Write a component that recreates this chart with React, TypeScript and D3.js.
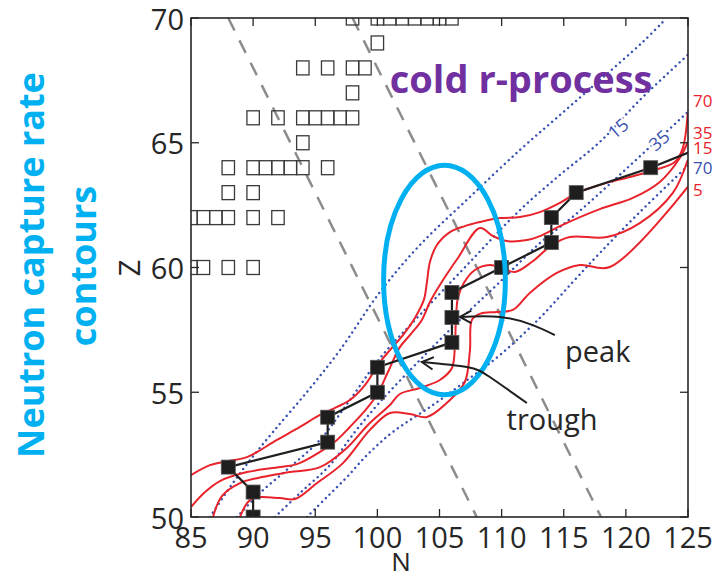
import React from "react";
import * as d3 from "d3";

// Axis extents and ticks (N = neutron number, Z = proton number)
const nDomain: [number, number] = [85, 125];
const zDomain: [number, number] = [50, 70];
const nTicks = [85, 90, 95, 100, 105, 110, 115, 120, 125];
const zTicks = [50, 55, 60, 65, 70];

// Stable isotopes (open squares)
const stableN = [85, 86, 88, 90, 85, 86, 87, 88, 90, 92, 88, 90, 88, 90, 91, 92, 93, 94, 96, 94, 90, 92, 94, 95, 96, 97, 98, 98, 94, 96, 98, 99, 100, 98, 100, 101, 102, 103, 104, 105, 106];
const stableZ = [60, 60, 60, 60, 62, 62, 62, 62, 62, 62, 63, 63, 64, 64, 64, 64, 64, 64, 64, 65, 66, 66, 66, 66, 66, 66, 66, 67, 68, 68, 68, 68, 69, 70, 70, 70, 70, 70, 70, 70, 70];

// r-process path
const pathN = [90, 90, 90, 88, 96, 96, 100, 100, 106, 106, 106, 110, 114, 114, 116, 122, 127];
const pathZ = [49, 50, 51, 52, 53, 54, 55, 56, 57, 58, 59, 60, 61, 62, 63, 64, 65];

// Neutron capture rate contours (red), levels 70 / 35 / 15 / 5
const capture70: [number, number][] = [[85, 51.68], [86.53, 52.08], [87.98, 52.24], [89.51, 52.4], [91.92, 53.09], [93.77, 53.61], [95.38, 54.09], [96.75, 54.41], [97.79, 54.69], [99.0, 55.29], [100.21, 56.21], [101.01, 56.69], [102.06, 57.29], [103.02, 57.98], [103.74, 58.7], [103.99, 59.42], [104.23, 60.22], [104.79, 60.9], [105.84, 61.42], [107.04, 61.66], [108.25, 61.82], [109.86, 61.98], [111.47, 62.02], [113.08, 62.22], [114.69, 62.59], [116.05, 62.99], [117.9, 63.31], [120.32, 63.63], [122.33, 63.91], [123.94, 64.23], [124.58, 64.79], [124.98, 66.19]];
const capture35: [number, number][] = [[85, 50.4], [86.13, 51.0], [87.33, 51.44], [89.51, 51.8], [92.16, 52.0], [93.53, 52.12], [95.38, 52.61], [96.75, 53.09], [97.79, 53.61], [98.84, 54.17], [99.96, 54.89], [100.85, 55.81], [101.81, 56.81], [102.62, 57.29], [103.58, 57.9], [104.23, 58.62], [105.03, 59.3], [106.48, 60.38], [108.25, 61.58], [109.3, 61.26], [110.42, 61.06], [112.03, 61.1], [113.08, 61.26], [114.69, 61.66], [117.9, 62.34], [120.56, 62.79], [122.73, 63.43], [124.34, 64.39], [124.98, 65.03]];
const capture15: [number, number][] = [[86.77, 50], [87.49, 50.84], [88.94, 51.36], [90.71, 51.6], [92.96, 51.8], [95.38, 52.0], [97.55, 52.77], [99.24, 53.69], [101.01, 54.49], [101.81, 54.93], [103.42, 55.17], [105.03, 55.49], [106.0, 55.97], [106.24, 56.89], [106.32, 57.9], [106.48, 58.78], [106.96, 59.38], [107.85, 59.9], [109.05, 60.1], [110.02, 59.98], [111.07, 59.82], [112.43, 60.22], [114.04, 60.9], [115.49, 61.22], [118.47, 61.22], [121.12, 61.78], [123.78, 62.99], [124.98, 64.31]];
const capture5: [number, number][] = [[88.94, 50], [89.51, 50.56], [89.99, 50.76], [90.71, 50.8], [92.16, 50.76], [93.37, 50.72], [95.14, 51.36], [97.23, 52.16], [99.4, 53.49], [101.01, 54.17], [102.62, 54.13], [103.99, 54.01], [105.84, 54.69], [107.04, 55.41], [107.45, 56.69], [107.61, 57.9], [108.25, 58.14], [109.62, 58.22], [110.9, 58.3], [112.27, 58.98], [114.44, 59.78], [116.3, 60.1], [118.71, 60.02], [124.98, 63.23]];

// Second family of contours (blue dotted), levels 5 / 15 / 35 / 70
const dotted5: [number, number][] = [[86.53, 50], [88.14, 51.2], [89.75, 52.28], [91.6, 53.41], [94.33, 55.01], [96.99, 56.69], [100.21, 59.02], [103.42, 60.9], [107.45, 62.83], [111.47, 64.71], [114.69, 66.11], [117.9, 67.51], [121.36, 69.04], [123.13, 69.92]];
const dotted15: [number, number][] = [[88.7, 50], [90.55, 50.96], [92.96, 52.0], [95.38, 53.09], [97.79, 54.69], [100.21, 56.37], [103.42, 58.1], [107.45, 60.22], [111.47, 62.3], [114.69, 63.71], [117.9, 65.03], [121.12, 66.71], [124.98, 68.52]];
const dotted35: [number, number][] = [[91.76, 50], [93.77, 50.96], [96.18, 52.08], [98.19, 53.41], [100.21, 54.61], [103.42, 56.29], [106.64, 57.9], [109.86, 59.42], [113.08, 60.98], [115.89, 62.1], [118.71, 63.35], [121.68, 64.71], [124.98, 66.23]];
const dotted70: [number, number][] = [[94.33, 50], [95.94, 50.8], [97.55, 51.6], [99.16, 52.48], [101.25, 53.41], [104.47, 54.49], [107.45, 55.57], [109.86, 56.49], [113.08, 57.98], [115.73, 59.42], [117.9, 60.58], [121.12, 62.22], [124.98, 64.07]];

// Constant mass number lines A = N + Z (grey dashed)
const massNumbers = [158, 168];

// Contour level labels at the right edge
const edgeLabels = ["70", "35", "15", "70", "5"];
const edgeLabelZ = [66.71, 65.43, 64.79, 63.99, 63.11];
const edgeLabelBlue = [false, false, false, true, false];

// Inline labels on the dotted contours
const inlineLabels = ["15", "35"];
const inlineLabelN = [119.35, 122.65];
const inlineLabelZ = [65.59, 65.11];

// Highlight ellipse (center N, Z and half-axes in N / Z units)
const ringCenter: [number, number] = [105.4, 59.5];
const ringHalf: [number, number] = [4.9, 4.6];

// Annotation arrows
const peakArrow: [number, number][] = [[114.28, 57.29], [112.51, 57.69], [109.86, 58.02], [106.64, 58.02]];
const troughArrow: [number, number][] = [[112.03, 54.57], [109.05, 55.61], [107.2, 56.01], [103.58, 56.21]];

const RED = "#e8232b";
const BLUE_DOT = "#3850b0";
const CYAN = "#00b0f0";
const PURPLE = "#7030a0";
const INK = "#262626";
const FONT = "'Open Sans', 'DejaVu Sans', sans-serif";

export default function App() {
  const width = 718;
  const height = 578;
  const plot = { left: 191, right: 688, top: 18, bottom: 517 };

  const x = d3.scaleLinear().domain(nDomain).range([plot.left, plot.right]);
  const y = d3.scaleLinear().domain(zDomain).range([plot.bottom, plot.top]);

  const smooth = d3
    .line<[number, number]>()
    .x((d) => x(d[0]))
    .y((d) => y(d[1]))
    .curve(d3.curveCatmullRom.alpha(0.5));
  const straight = d3
    .line<[number, number]>()
    .x((d) => x(d[0]))
    .y((d) => y(d[1]));
  const bent = d3
    .line<[number, number]>()
    .x((d) => x(d[0]))
    .y((d) => y(d[1]))
    .curve(d3.curveNatural);

  const pathPts: [number, number][] = pathN.map((n, i) => [n, pathZ[i]]);
  const markers = pathPts.filter(
    ([n, z]) => n >= nDomain[0] && n <= nDomain[1] && z >= zDomain[0] && z <= zDomain[1]
  );

  const cellW = x(1) - x(0);
  const cellH = y(0) - y(0.56);
  const markSize = 14;

  const arrowHead = (pts: [number, number][]) => {
    const tip = [x(pts[pts.length - 1][0]), y(pts[pts.length - 1][1])];
    const prev = [x(pts[pts.length - 2][0]), y(pts[pts.length - 2][1])];
    const a = Math.atan2(prev[1] - tip[1], prev[0] - tip[0]);
    const len = 13;
    const spread = 0.5;
    const p1 = [tip[0] + len * Math.cos(a + spread), tip[1] + len * Math.sin(a + spread)];
    const p2 = [tip[0] + len * Math.cos(a - spread), tip[1] + len * Math.sin(a - spread)];
    return `M${p1[0]},${p1[1]}L${tip[0]},${tip[1]}L${p2[0]},${p2[1]}`;
  };

  const tickLen = 8;

  return (
    <svg
      width={width}
      height={height}
      viewBox={`0 0 ${width} ${height}`}
      style={{ position: "absolute", left: 0, top: 0, background: "#fff" }}
      fontFamily={FONT}
    >
      <defs>
        <clipPath id="plot-area">
          <rect x={plot.left} y={plot.top} width={plot.right - plot.left} height={plot.bottom - plot.top} />
        </clipPath>
      </defs>

      <g clipPath="url(#plot-area)">
        {/* constant-A lines */}
        {massNumbers.map((a) => (
          <line
            key={a}
            x1={x(a - zDomain[1])}
            y1={y(zDomain[1])}
            x2={x(a - zDomain[0])}
            y2={y(zDomain[0])}
            stroke="#8c8c8c"
            strokeWidth={2.5}
            strokeDasharray="14 11"
          />
        ))}

        {/* dotted contours */}
        {[dotted5, dotted15, dotted35, dotted70].map((c, i) => (
          <path
            key={"d" + i}
            d={smooth(c) ?? ""}
            fill="none"
            stroke={BLUE_DOT}
            strokeWidth={2.4}
            strokeLinecap="round"
            strokeDasharray="0.1 5.2"
          />
        ))}

        {/* capture rate contours */}
        {[capture70, capture35, capture15, capture5].map((c, i) => (
          <path key={"r" + i} d={smooth(c) ?? ""} fill="none" stroke={RED} strokeWidth={2} />
        ))}

        {/* stable isotopes */}
        {stableN.map((n, i) => (
          <rect
            key={"s" + i}
            x={x(n) - cellW / 2}
            y={y(stableZ[i]) - cellH / 2}
            width={cellW}
            height={cellH}
            fill="none"
            stroke="#3a3a3a"
            strokeWidth={1.3}
          />
        ))}

        {/* r-process path */}
        <path d={straight(pathPts) ?? ""} fill="none" stroke="#1e1e1e" strokeWidth={2.2} />
        {markers.map(([n, z], i) => (
          <rect
            key={"m" + i}
            x={x(n) - markSize / 2}
            y={y(z) - markSize / 2}
            width={markSize}
            height={markSize}
            fill="#1e1e1e"
            stroke="#555"
            strokeWidth={0.8}
          />
        ))}
      </g>

      {/* inline labels on dotted contours */}
      {inlineLabels.map((t, i) => (
        <text
          key={"il" + i}
          x={x(inlineLabelN[i])}
          y={y(inlineLabelZ[i])}
          transform={`rotate(-40 ${x(inlineLabelN[i])} ${y(inlineLabelZ[i])})`}
          textAnchor="middle"
          dominantBaseline="central"
          fontSize={18}
          fill={BLUE_DOT}
          stroke="#fff"
          strokeWidth={4}
          paintOrder="stroke"
        >
          {t}
        </text>
      ))}

      {/* frame */}
      <rect
        x={plot.left}
        y={plot.top}
        width={plot.right - plot.left}
        height={plot.bottom - plot.top}
        fill="none"
        stroke={INK}
        strokeWidth={1.6}
      />
      {nTicks.map((t) => (
        <g key={"xt" + t} stroke={INK} strokeWidth={1.3}>
          <line x1={x(t)} x2={x(t)} y1={plot.bottom} y2={plot.bottom - tickLen} />
          <line x1={x(t)} x2={x(t)} y1={plot.top} y2={plot.top + tickLen} />
        </g>
      ))}
      {zTicks.map((t) => (
        <g key={"yt" + t} stroke={INK} strokeWidth={1.3}>
          <line x1={plot.left} x2={plot.left + tickLen} y1={y(t)} y2={y(t)} />
          <line x1={plot.right} x2={plot.right - tickLen} y1={y(t)} y2={y(t)} />
        </g>
      ))}
      {nTicks.map((t) => (
        <text key={"xl" + t} x={x(t)} y={548} textAnchor="middle" fontSize={29} fill={INK}>
          {t}
        </text>
      ))}
      {zTicks.map((t) => (
        <text
          key={"yl" + t}
          x={plot.left - 7}
          y={y(t)}
          textAnchor="end"
          dominantBaseline="central"
          fontSize={29}
          fill={INK}
        >
          {t}
        </text>
      ))}
      <text x={401} y={571} textAnchor="middle" fontSize={26} fill={INK}>
        N
      </text>
      <text
        x={0}
        y={0}
        transform={`translate(140 268) rotate(-90)`}
        textAnchor="middle"
        fontSize={29}
        fill={INK}
      >
        Z
      </text>

      {/* contour levels at the right edge */}
      {edgeLabels.map((t, i) => (
        <text
          key={"el" + i}
          x={plot.right + 5}
          y={y(edgeLabelZ[i])}
          dominantBaseline="central"
          fontSize={17}
          fill={edgeLabelBlue[i] ? BLUE_DOT : RED}
        >
          {t}
        </text>
      ))}

      {/* highlight ring */}
      <ellipse
        cx={x(ringCenter[0])}
        cy={y(ringCenter[1])}
        rx={x(ringHalf[0]) - x(0)}
        ry={y(0) - y(ringHalf[1])}
        fill="none"
        stroke={CYAN}
        strokeWidth={5}
      />

      {/* annotations */}
      {[peakArrow, troughArrow].map((a, i) => (
        <g key={"ar" + i} fill="none" stroke="#1e1e1e" strokeWidth={2}>
          <path d={bent(a) ?? ""} />
          <path d={arrowHead(a)} />
        </g>
      ))}
      <text x={x(115.1)} y={y(56.2)} fontSize={29} fill={INK}>
        peak
      </text>
      <text x={x(110.4)} y={y(53.5)} fontSize={29} fill={INK}>
        trough
      </text>

      <text x={x(101.0)} y={93} fontSize={38} fontWeight={700} fill={PURPLE}>
        cold r-process
      </text>

      <g fill={CYAN} fontWeight={700} fontSize={36} textAnchor="middle">
        <text transform="translate(44 265) rotate(-90)">Neutron capture rate</text>
        <text transform="translate(96 266) rotate(-90)">contours</text>
      </g>
    </svg>
  );
}
